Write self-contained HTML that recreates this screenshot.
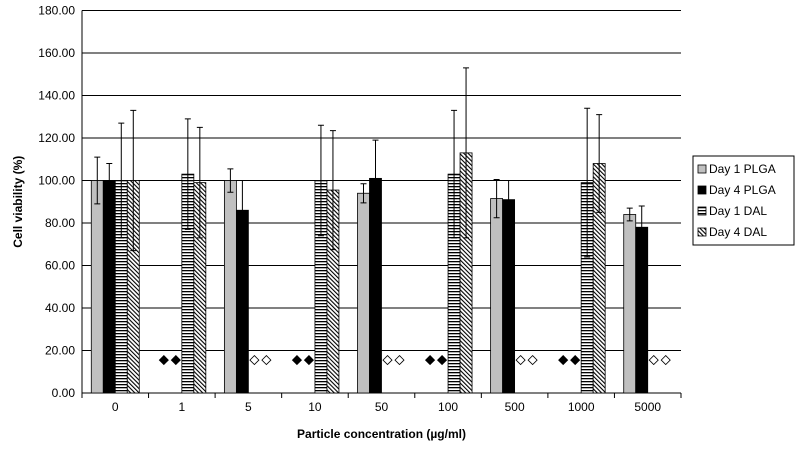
<!DOCTYPE html>
<html><head><meta charset="utf-8"><style>
body{margin:0;background:#fff;font-family:"Liberation Sans",Arial,sans-serif}
svg text{font-family:"Liberation Sans",Arial,sans-serif}
</style></head><body>
<svg id="c" width="800" height="453">
<defs>
<pattern id="hz" width="3" height="3" patternUnits="userSpaceOnUse"><rect width="3" height="3" fill="#fff"/><rect y="0" width="3" height="1.3" fill="#000"/></pattern>
<pattern id="dg" width="3" height="3" patternUnits="userSpaceOnUse" patternTransform="rotate(-45)"><rect width="3" height="3" fill="#fff"/><rect width="1.1" height="3" fill="#000"/></pattern>
</defs>
</svg>
<script>
const categories=["0","1","5","10","50","100","500","1000","5000"];
const seriesNames=["Day 1 PLGA","Day 4 PLGA","Day 1 DAL","Day 4 DAL"];
const day1PLGA=[100,null,100,null,94,null,91.5,null,84];
const day4PLGA=[100,null,86,null,101,null,91,null,78];
const day1DAL=[100,103,null,100,null,103,null,99,null];
const day4DAL=[100,99,null,95.5,null,113,null,108,null];
const err1PLGA=[11,0,5.5,0,4.5,0,9,0,3];
const err4PLGA=[8,0,14,0,18,0,9,0,10];
const err1DAL=[27,26,0,26,0,30,0,35,0];
const err4DAL=[33,26,0,28,0,40,0,23,0];
const markerValue=15.5;
const yTicks=[0,20,40,60,80,100,120,140,160,180];

const NS="http://www.w3.org/2000/svg";
const svg=document.getElementById('c');
const L=82,R=681,T=10.5,B=393;
const y=v=>B-(v/180)*(B-T);
const cw=(R-L)/categories.length;
const bw=12;
const bx=(i,s)=>L+i*cw+cw/2-2*bw+s*bw;
function el(t,a,p){const e=document.createElementNS(NS,t);for(const k in a)e.setAttribute(k,a[k]);(p||svg).appendChild(e);return e;}
yTicks.forEach(v=>{
 const g=el('line',{x1:L,x2:R,y1:y(v),y2:y(v),stroke:'#000','stroke-width':1});
 
 
 const t=el('text',{x:75,y:y(v)+4,'text-anchor':'end','font-size':12});
 t.textContent=v.toFixed(2);
 
 
});
const ax=el('line',{x1:L,x2:L,y1:T,y2:B,stroke:'#000'});


for(let i=0;i<=categories.length;i++){
 const tk=el('line',{x1:L+i*cw,x2:L+i*cw,y1:B,y2:B+5,stroke:'#000'});
 
 
}
categories.forEach((c,i)=>{
 const t=el('text',{x:L+i*cw+cw/2,y:B+18,'text-anchor':'middle','font-size':12});
 t.textContent=c;
 
 
});
const series=[day1PLGA,day4PLGA,day1DAL,day4DAL];
const errs=[err1PLGA,err4PLGA,err1DAL,err4DAL];
const fills=['#c0c0c0','#000','url(#hz)','url(#dg)'];
categories.forEach((c,i)=>{
 series.forEach((s,k)=>{
  const v=s[i];const x=bx(i,k);
  if(v==null){
   const open=k<2?false:true;
   const cx=x+bw/2,cy=y(markerValue);
   const d=el('polygon',{points:`${cx},${cy-4.5} ${cx+4.5},${cy} ${cx},${cy+4.5} ${cx-4.5},${cy}`,fill:open?'#fff':'#000',stroke:'#000','stroke-width':0.8});
   
   
   return;
  }
  const r=el('rect',{x:x,y:y(v),width:bw,height:B-y(v),fill:fills[k],stroke:'#000','stroke-width':0.8});
  
  
  const e=errs[k][i];
  if(e){
   const cx=x+bw/2;
   const g=el('path',{d:`M${cx},${y(v+e)}V${y(v-e)}M${cx-3},${y(v+e)}H${cx+3}M${cx-3},${y(v-e)}H${cx+3}`,stroke:'#000','stroke-width':1,fill:'none'});
   if(k==1){g.setAttribute('d',`M${cx},${y(v+e)}V${y(v)}M${cx-3},${y(v+e)}H${cx+3}`);}
   
   
  }
 });
});
const yt=el('text',{x:0,y:0,'font-size':12,'font-weight':'bold','text-anchor':'middle',transform:`translate(22,${(T+B)/2}) rotate(-90)`});
yt.textContent='Cell viability (%)';


const xt=el('text',{x:(L+R)/2,y:438,'font-size':12,'font-weight':'bold','text-anchor':'middle'});
xt.textContent='Particle concentration (µg/ml)';


const lg=el('g',{});


el('rect',{x:693,y:156,width:101,height:89,fill:'#fff',stroke:'#000','stroke-width':1},lg);
seriesNames.forEach((n,k)=>{
 const yy=163+k*21;
 const s=el('rect',{x:698,y:yy+2,width:8,height:8,fill:fills[k],stroke:'#000','stroke-width':0.8},lg);
 
 
 const t=el('text',{x:709,y:yy+10,'font-size':12},lg);
 t.textContent=n;
 
 
});
</script>
</body></html>
